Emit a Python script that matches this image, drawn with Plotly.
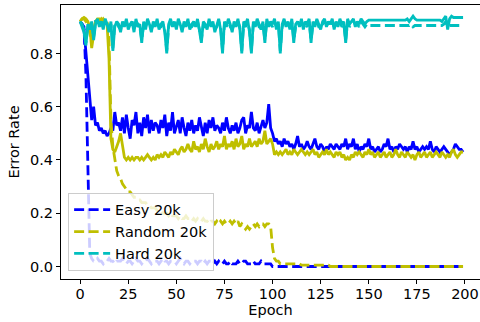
import plotly.graph_objects as go

epochs = list(range(200))

easy_dashed = [
    0.92, 0.91, 0.90, 0.72, 0.35, 0.05, 0.03, 0.02, 0.02, 0.03, 0.02, 0.02, 0.01, 0.02, 0.02, 0.03, 0.02, 0.02, 0.01, 0.02,
    0.02, 0.02, 0.03, 0.02, 0.01, 0.02, 0.02, 0.01, 0.02, 0.03, 0.02, 0.02, 0.01, 0.02, 0.02, 0.03, 0.02, 0.01, 0.02, 0.02,
    0.02, 0.01, 0.02, 0.03, 0.02, 0.02, 0.01, 0.02, 0.02, 0.02, 0.01, 0.02, 0.03, 0.02, 0.01, 0.02, 0.02, 0.01, 0.02, 0.02,
    0.02, 0.01, 0.02, 0.02, 0.01, 0.02, 0.01, 0.02, 0.02, 0.01, 0.02, 0.01, 0.02, 0.01, 0.01, 0.02, 0.01, 0.01, 0.02, 0.01,
    0.01, 0.01, 0.02, 0.01, 0.01, 0.02, 0.02, 0.01, 0.01, 0.01, 0.02, 0.01, 0.01, 0.01, 0.02, 0.01, 0.01, 0.01, 0.01, 0.01,
    0.00, 0.00, 0.00, 0.00, 0.00, 0.00, 0.00, 0.00, 0.00, 0.00, 0.00, 0.00, 0.00, 0.00, 0.00, 0.00, 0.00, 0.00, 0.00, 0.00,
    0.00, 0.00, 0.00, 0.00, 0.00, 0.00, 0.00, 0.00, 0.00, 0.00, 0.00, 0.00, 0.00, 0.00, 0.00, 0.00, 0.00, 0.00, 0.00, 0.00,
    0.00, 0.00, 0.00, 0.00, 0.00, 0.00, 0.00, 0.00, 0.00, 0.00, 0.00, 0.00, 0.00, 0.00, 0.00, 0.00, 0.00, 0.00, 0.00, 0.00,
    0.00, 0.00, 0.00, 0.00, 0.00, 0.00, 0.00, 0.00, 0.00, 0.00, 0.00, 0.00, 0.00, 0.00, 0.00, 0.00, 0.00, 0.00, 0.00, 0.00,
    0.00, 0.00, 0.00, 0.00, 0.00, 0.00, 0.00, 0.00, 0.00, 0.00, 0.00, 0.00, 0.00, 0.00, 0.00, 0.00, 0.00, 0.00, 0.00, 0.00,
]

easy_solid = [
    0.92, 0.91, 0.89, 0.80, 0.70, 0.62, 0.55, 0.60, 0.53, 0.54, 0.51, 0.52, 0.50, 0.51, 0.49, 0.50, 0.52, 0.51, 0.58, 0.53,
    0.54, 0.51, 0.56, 0.50, 0.57, 0.52, 0.48, 0.55, 0.53, 0.58, 0.50, 0.54, 0.49, 0.56, 0.52, 0.57, 0.50, 0.55, 0.51, 0.54,
    0.53, 0.50, 0.55, 0.52, 0.57, 0.49, 0.54, 0.51, 0.58, 0.50, 0.53, 0.55, 0.50, 0.56, 0.52, 0.49, 0.54, 0.51, 0.55, 0.50,
    0.53, 0.51, 0.56, 0.52, 0.49, 0.54, 0.50, 0.55, 0.52, 0.56, 0.51, 0.53, 0.52, 0.50, 0.54, 0.51, 0.56, 0.52, 0.50, 0.53,
    0.51, 0.54, 0.50, 0.52, 0.55, 0.56, 0.50, 0.53, 0.52, 0.58, 0.52, 0.51, 0.54, 0.50, 0.53, 0.55, 0.52, 0.54, 0.61, 0.52,
    0.50, 0.47, 0.48, 0.46, 0.47, 0.45, 0.48, 0.46, 0.47, 0.45, 0.46, 0.44, 0.46, 0.49, 0.45, 0.46, 0.44, 0.45, 0.47, 0.45,
    0.44, 0.46, 0.48, 0.45, 0.44, 0.46, 0.45, 0.43, 0.45, 0.44, 0.46, 0.45, 0.44, 0.46, 0.45, 0.44, 0.46, 0.45, 0.48, 0.44,
    0.46, 0.45, 0.48, 0.44, 0.46, 0.43, 0.45, 0.44, 0.46, 0.45, 0.48, 0.44, 0.45, 0.43, 0.44, 0.45, 0.43, 0.44, 0.46, 0.45,
    0.48, 0.44, 0.45, 0.43, 0.45, 0.44, 0.46, 0.45, 0.44, 0.45, 0.43, 0.45, 0.44, 0.47, 0.44, 0.45, 0.43, 0.44, 0.45, 0.44,
    0.45, 0.44, 0.47, 0.44, 0.43, 0.45, 0.44, 0.43, 0.44, 0.45, 0.44, 0.43, 0.42, 0.43, 0.44, 0.46, 0.45, 0.44, 0.44, 0.43,
]

random_dashed = [
    0.92, 0.93, 0.93, 0.92, 0.91, 0.88, 0.84, 0.89, 0.92, 0.93, 0.92, 0.93, 0.92, 0.93, 0.92, 0.85, 0.55, 0.45, 0.40, 0.36,
    0.34, 0.33, 0.31, 0.30, 0.29, 0.28, 0.28, 0.27, 0.26, 0.26, 0.25, 0.25, 0.24, 0.24, 0.24, 0.23, 0.23, 0.22, 0.22, 0.22,
    0.21, 0.21, 0.21, 0.20, 0.20, 0.20, 0.19, 0.20, 0.19, 0.19, 0.19, 0.18, 0.19, 0.18, 0.18, 0.19, 0.18, 0.18, 0.17, 0.18,
    0.17, 0.18, 0.17, 0.17, 0.18, 0.17, 0.17, 0.16, 0.17, 0.17, 0.16, 0.17, 0.16, 0.17, 0.16, 0.17, 0.16, 0.16, 0.17, 0.16,
    0.17, 0.16, 0.17, 0.15, 0.16, 0.15, 0.14, 0.15, 0.14, 0.15, 0.16, 0.15, 0.16, 0.15, 0.16, 0.16, 0.15, 0.16, 0.16, 0.15,
    0.07, 0.03, 0.02, 0.02, 0.01, 0.01, 0.01, 0.01, 0.01, 0.01, 0.01, 0.01, 0.01, 0.01, 0.01, 0.005, 0.005, 0.005, 0.005, 0.005,
    0.005, 0.005, 0.005, 0.005, 0.005, 0.005, 0.005, 0.005, 0.005, 0.005, 0.00, 0.00, 0.00, 0.00, 0.00, 0.00, 0.00, 0.00, 0.00, 0.00,
    0.00, 0.00, 0.00, 0.00, 0.00, 0.00, 0.00, 0.00, 0.00, 0.00, 0.00, 0.00, 0.00, 0.00, 0.00, 0.00, 0.00, 0.00, 0.00, 0.00,
    0.00, 0.00, 0.00, 0.00, 0.00, 0.00, 0.00, 0.00, 0.00, 0.00, 0.00, 0.00, 0.00, 0.00, 0.00, 0.00, 0.00, 0.00, 0.00, 0.00,
    0.00, 0.00, 0.00, 0.00, 0.00, 0.00, 0.00, 0.00, 0.00, 0.00, 0.00, 0.00, 0.00, 0.00, 0.00, 0.00, 0.00, 0.00, 0.00, 0.00,
]

random_solid = [
    0.92, 0.93, 0.935, 0.93, 0.92, 0.90, 0.82, 0.88, 0.92, 0.93, 0.93, 0.92, 0.93, 0.92, 0.91, 0.78, 0.48, 0.44, 0.43, 0.45,
    0.47, 0.50, 0.45, 0.41, 0.40, 0.41, 0.40, 0.41, 0.40, 0.41, 0.41, 0.40, 0.41, 0.40, 0.41, 0.42, 0.41, 0.40, 0.41, 0.40,
    0.42, 0.41, 0.42, 0.41, 0.43, 0.42, 0.41, 0.43, 0.42, 0.44, 0.43, 0.42, 0.44, 0.45, 0.43, 0.44, 0.46, 0.44, 0.43, 0.47,
    0.44, 0.45, 0.43, 0.46, 0.44, 0.48, 0.45, 0.43, 0.46, 0.44, 0.45, 0.47, 0.44, 0.46, 0.45, 0.49, 0.44, 0.46, 0.45, 0.47,
    0.44, 0.48, 0.45, 0.46, 0.49, 0.44, 0.46, 0.45, 0.48, 0.45, 0.46, 0.47, 0.45, 0.48, 0.46, 0.47, 0.51, 0.46, 0.47, 0.48,
    0.46, 0.42, 0.43, 0.42, 0.43, 0.42, 0.43, 0.44, 0.42, 0.43, 0.42, 0.44, 0.43, 0.42, 0.43, 0.44, 0.43, 0.42, 0.43, 0.42,
    0.43, 0.44, 0.42, 0.43, 0.41, 0.42, 0.43, 0.42, 0.44, 0.42, 0.43, 0.42, 0.41, 0.43, 0.42, 0.43, 0.41, 0.42, 0.40, 0.41,
    0.40, 0.42, 0.41, 0.43, 0.42, 0.43, 0.42, 0.41, 0.43, 0.42, 0.44, 0.42, 0.43, 0.41, 0.42, 0.43, 0.41, 0.42, 0.43, 0.41,
    0.42, 0.43, 0.41, 0.42, 0.44, 0.42, 0.41, 0.43, 0.42, 0.41, 0.43, 0.42, 0.41, 0.42, 0.40, 0.42, 0.43, 0.41, 0.42, 0.43,
    0.41, 0.42, 0.43, 0.41, 0.42, 0.43, 0.42, 0.41, 0.43, 0.42, 0.41, 0.42, 0.41, 0.43, 0.44, 0.42, 0.41, 0.42, 0.43, 0.43,
]

hard_dashed = [
    0.92, 0.91, 0.89, 0.84, 0.90, 0.90, 0.91, 0.86, 0.92, 0.92, 0.91, 0.92, 0.90, 0.92, 0.91, 0.89, 0.91, 0.82, 0.91, 0.92,
    0.90, 0.89, 0.91, 0.91, 0.92, 0.90, 0.90, 0.92, 0.89, 0.92, 0.91, 0.90, 0.85, 0.91, 0.90, 0.92, 0.90, 0.89, 0.91, 0.91,
    0.92, 0.90, 0.90, 0.91, 0.89, 0.81, 0.90, 0.92, 0.91, 0.91, 0.90, 0.92, 0.90, 0.89, 0.91, 0.91, 0.92, 0.90, 0.90, 0.91,
    0.91, 0.92, 0.89, 0.85, 0.91, 0.90, 0.90, 0.92, 0.91, 0.91, 0.89, 0.90, 0.92, 0.90, 0.81, 0.91, 0.91, 0.92, 0.90, 0.89,
    0.91, 0.91, 0.92, 0.90, 0.81, 0.91, 0.90, 0.92, 0.89, 0.81, 0.91, 0.91, 0.92, 0.90, 0.90, 0.91, 0.85, 0.92, 0.91, 0.91,
    0.90, 0.92, 0.90, 0.91, 0.81, 0.90, 0.92, 0.91, 0.91, 0.90, 0.92, 0.85, 0.90, 0.91, 0.91, 0.92, 0.90, 0.91, 0.90, 0.92,
    0.85, 0.91, 0.91, 0.92, 0.90, 0.90, 0.91, 0.92, 0.91, 0.91, 0.90, 0.92, 0.90, 0.91, 0.91, 0.92, 0.90, 0.91, 0.85, 0.92,
    0.90, 0.91, 0.92, 0.91, 0.91, 0.90, 0.92, 0.91, 0.90, 0.91, 0.905, 0.905, 0.905, 0.905, 0.905, 0.905, 0.905, 0.905, 0.905, 0.905,
    0.905, 0.905, 0.905, 0.905, 0.905, 0.905, 0.905, 0.905, 0.905, 0.905, 0.905, 0.905, 0.91, 0.90, 0.905, 0.905, 0.905, 0.905, 0.905, 0.905,
    0.905, 0.905, 0.905, 0.905, 0.905, 0.905, 0.905, 0.905, 0.905, 0.91, 0.92, 0.90, 0.905, 0.905, 0.905, 0.905, 0.905, 0.905, 0.905, 0.905,
]

hard_solid = [
    0.92, 0.90, 0.88, 0.83, 0.91, 0.89, 0.92, 0.85, 0.91, 0.93, 0.90, 0.92, 0.89, 0.93, 0.91, 0.88, 0.92, 0.81, 0.90, 0.92,
    0.91, 0.88, 0.92, 0.90, 0.93, 0.89, 0.91, 0.92, 0.88, 0.93, 0.90, 0.91, 0.84, 0.92, 0.89, 0.93, 0.91, 0.88, 0.92, 0.90,
    0.93, 0.89, 0.91, 0.92, 0.88, 0.80, 0.91, 0.93, 0.90, 0.92, 0.89, 0.93, 0.91, 0.88, 0.92, 0.90, 0.93, 0.89, 0.91, 0.92,
    0.90, 0.93, 0.88, 0.84, 0.92, 0.91, 0.89, 0.93, 0.90, 0.92, 0.88, 0.91, 0.93, 0.89, 0.80, 0.92, 0.90, 0.93, 0.91, 0.88,
    0.92, 0.90, 0.93, 0.89, 0.80, 0.92, 0.91, 0.93, 0.88, 0.80, 0.92, 0.90, 0.93, 0.91, 0.89, 0.92, 0.84, 0.93, 0.90, 0.92,
    0.91, 0.93, 0.89, 0.92, 0.80, 0.91, 0.93, 0.90, 0.92, 0.89, 0.93, 0.84, 0.91, 0.92, 0.90, 0.93, 0.89, 0.92, 0.91, 0.93,
    0.84, 0.92, 0.90, 0.93, 0.91, 0.89, 0.92, 0.93, 0.90, 0.92, 0.91, 0.93, 0.89, 0.92, 0.90, 0.93, 0.91, 0.92, 0.84, 0.93,
    0.91, 0.92, 0.93, 0.90, 0.92, 0.91, 0.93, 0.92, 0.91, 0.92, 0.925, 0.925, 0.925, 0.925, 0.925, 0.925, 0.925, 0.925, 0.925, 0.925,
    0.925, 0.925, 0.925, 0.925, 0.925, 0.925, 0.925, 0.925, 0.925, 0.925, 0.93, 0.92, 0.93, 0.94, 0.93, 0.925, 0.925, 0.925, 0.925, 0.925,
    0.925, 0.925, 0.925, 0.925, 0.925, 0.925, 0.925, 0.925, 0.92, 0.93, 0.94, 0.89, 0.93, 0.94, 0.935, 0.935, 0.935, 0.935, 0.935, 0.935,
]

BLUE = "#0000ff"
OLIVE = "#bfbf00"
CYAN = "#00bfbf"
LW = 2.8
DASH = "10px,4.5px"

fig = go.Figure()
series = [
    ("Easy 20k", easy_dashed, easy_solid, BLUE),
    ("Random 20k", random_dashed, random_solid, OLIVE),
    ("Hard 20k", hard_dashed, hard_solid, CYAN),
]
for name, dashed, solid, color in series:
    fig.add_trace(go.Scatter(x=epochs, y=dashed, mode="lines", name=name,
                             line=dict(color=color, width=LW, dash=DASH)))
    fig.add_trace(go.Scatter(x=epochs, y=solid, mode="lines", showlegend=False,
                             line=dict(color=color, width=LW)))

font = dict(family="DejaVu Sans", size=14.5, color="black")
fig.update_layout(
    width=480, height=322,
    margin=dict(l=61, r=0, t=5, b=43),
    paper_bgcolor="white", plot_bgcolor="white",
    font=font,
    showlegend=True,
    legend=dict(x=0.017, y=0.03, xanchor="left", yanchor="bottom",
                bgcolor="rgba(255,255,255,0.8)", bordercolor="#cccccc", borderwidth=1,
                font=font, itemwidth=36, tracegroupgap=0),
)
fig.update_xaxes(range=[-9.95, 207.8], tickvals=[0, 25, 50, 75, 100, 125, 150, 175, 200],
                 ticks="outside", ticklen=4, tickcolor="black", showgrid=False, zeroline=False,
                 showline=True, linecolor="black", linewidth=1, mirror=True,
                 tickfont=font, ticklabelstandoff=-2,
                 title=dict(text="Epoch", standoff=3, font=font))
fig.update_yaxes(range=[-0.047, 0.982], tickvals=[0.0, 0.2, 0.4, 0.6, 0.8], tickformat=".1f",
                 ticks="outside", ticklen=4, tickcolor="black", showgrid=False, zeroline=False,
                 showline=True, linecolor="black", linewidth=1,
                 tickfont=font,
                 title=dict(text="Error Rate", standoff=6, font=font))

fig.write_html("out.html")
